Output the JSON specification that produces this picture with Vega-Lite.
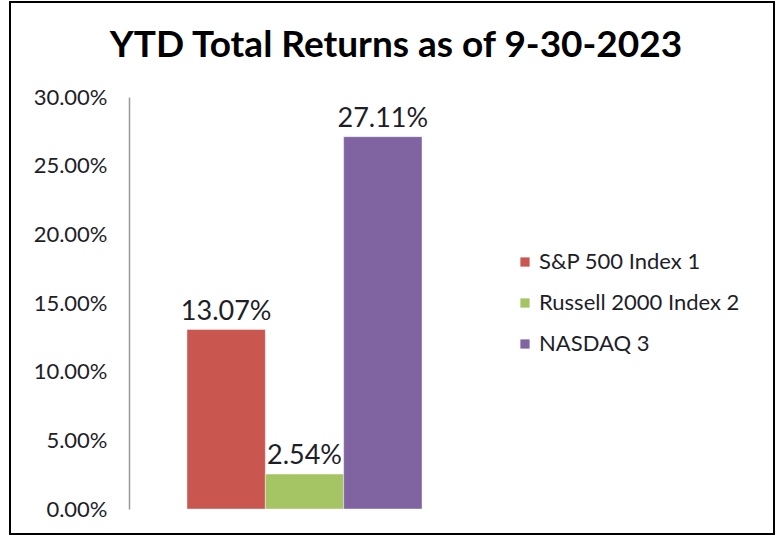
{
  "$schema": "https://vega.github.io/schema/vega-lite/v6.json",
  "width": 764,
  "height": 532,
  "autosize": "none",
  "padding": {"left": 10, "top": 2, "right": 2, "bottom": 2},
  "background": "#ffffff",
  "config": {
    "view": {"stroke": "#000000", "strokeWidth": 2},
    "font": "Lato"
  },
  "title": {
    "text": "YTD Total Returns as of 9-30-2023",
    "font": "Lato",
    "fontSize": 37,
    "fontWeight": "bold",
    "color": "#000000",
    "anchor": "middle",
    "frame": "group",
    "baseline": "alphabetic",
    "offset": -92,
    "dx": 4
  },
  "data": {
    "values": [
      {"series": "S&P 500 Index  1", "value": 0.1307},
      {"series": "Russell 2000 Index  2", "value": 0.0254},
      {"series": "NASDAQ  3", "value": 0.2711}
    ]
  },
  "encoding": {
    "x": {
      "field": "series",
      "type": "nominal",
      "sort": ["S&P 500 Index  1", "Russell 2000 Index  2", "NASDAQ  3"],
      "scale": {"range": [177, 412], "paddingInner": 0, "paddingOuter": 0},
      "axis": null
    },
    "y": {
      "field": "value",
      "type": "quantitative",
      "scale": {"domain": [0, 0.3], "range": [507, 95], "nice": false, "zero": false},
      "axis": {
        "offset": -119,
        "values": [0, 0.05, 0.1, 0.15, 0.2, 0.25, 0.3],
        "format": ".2%",
        "ticks": false,
        "grid": false,
        "title": null,
        "labelFont": "Lato",
        "labelFontSize": 22,
        "labelColor": "#1e1e28",
        "labelPadding": 22,
        "domainColor": "#999999",
        "domainWidth": 1.5
      }
    }
  },
  "layer": [
    {
      "mark": {"type": "bar", "stroke": "#ffffff", "strokeOpacity": 0.4, "strokeWidth": 1},
      "encoding": {
        "y2": {"datum": 0},
        "color": {
          "field": "series",
          "type": "nominal",
          "sort": ["S&P 500 Index  1", "Russell 2000 Index  2", "NASDAQ  3"],
          "scale": {"range": ["#C9564F", "#A5C463", "#8064A2"]},
          "legend": {
            "title": null,
            "orient": "none",
            "legendX": 504,
            "legendY": 249,
            "symbolType": "square",
            "symbolSize": 85,
            "symbolStrokeWidth": 0,
            "labelFont": "Lato",
            "labelFontSize": 22,
            "labelColor": "#1e1e28",
            "labelOffset": 3,
            "labelLimit": 300,
            "rowPadding": 19,
            "padding": 0
          }
        }
      }
    },
    {
      "mark": {"type": "text", "baseline": "alphabetic", "dy": -10, "fontSize": 27, "font": "Lato", "color": "#1e1e28"},
      "encoding": {
        "text": {"field": "value", "type": "quantitative", "format": ".2%"}
      }
    }
  ]
}
